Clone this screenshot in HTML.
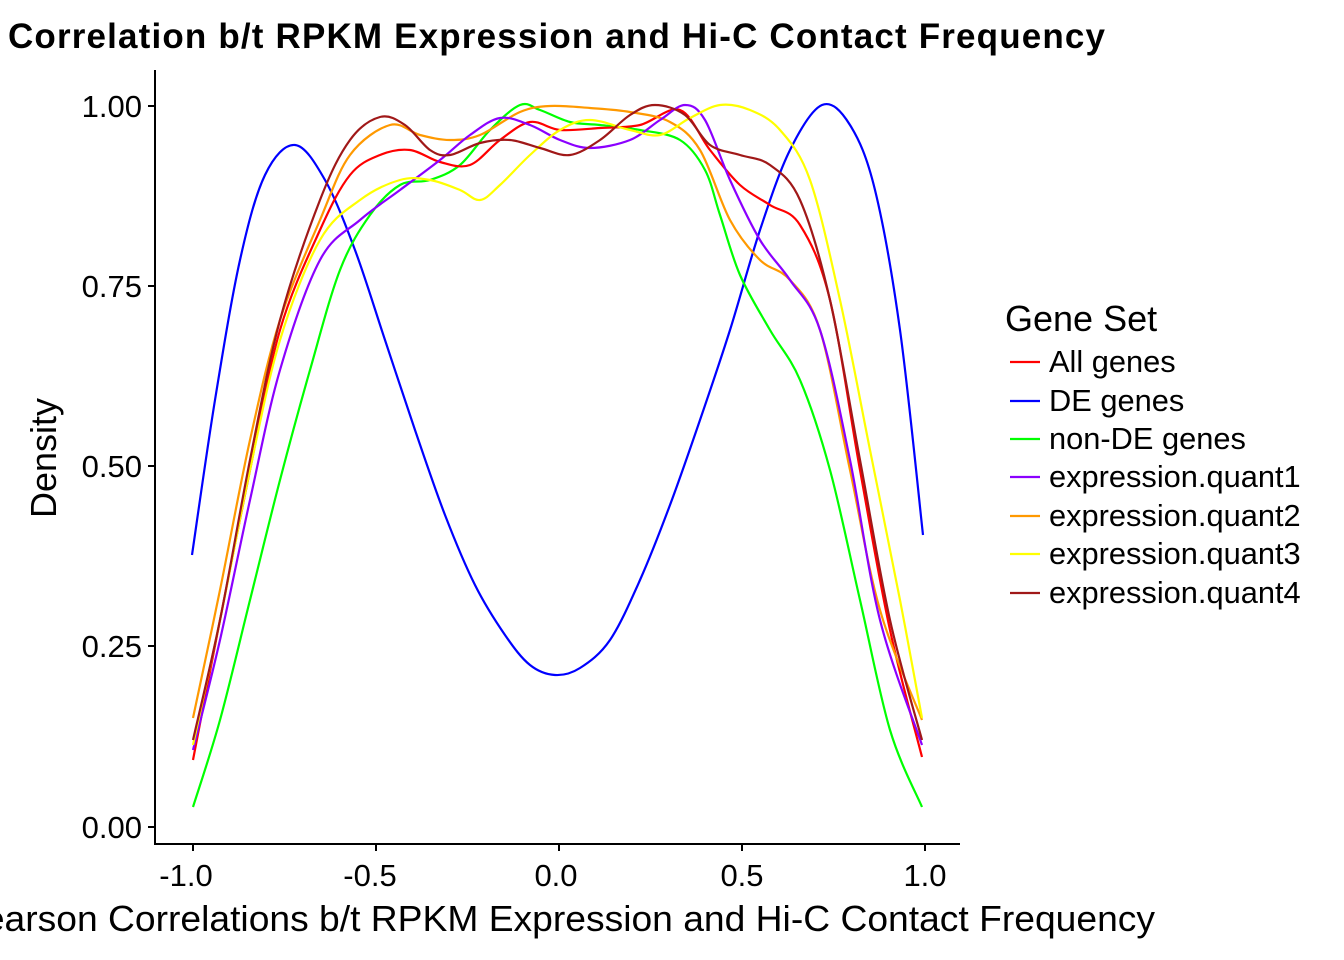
<!DOCTYPE html>
<html><head><meta charset="utf-8"><style>
html,body{margin:0;padding:0;background:#fff;}
svg{display:block;font-family:"Liberation Sans",Arial,sans-serif;}
</style></head><body>
<svg id="s" width="1344" height="960" viewBox="0 0 1344 960" xmlns="http://www.w3.org/2000/svg">
<rect width="1344" height="960" fill="#fff"/>
<text x="8" y="48" font-size="35" font-weight="bold" fill="#000" textLength="1097">Correlation b/t RPKM Expression and Hi-C Contact Frequency</text>
<g stroke="#000" stroke-width="2" fill="none">
<line x1="155" y1="70" x2="155" y2="844"/>
<line x1="154" y1="844" x2="960" y2="844"/>
<line x1="148" y1="106" x2="155" y2="106"/>
<line x1="148" y1="286" x2="155" y2="286"/>
<line x1="148" y1="466" x2="155" y2="466"/>
<line x1="148" y1="646" x2="155" y2="646"/>
<line x1="148" y1="827" x2="155" y2="827"/>
<line x1="193" y1="844" x2="193" y2="851"/>
<line x1="376" y1="844" x2="376" y2="851"/>
<line x1="559" y1="844" x2="559" y2="851"/>
<line x1="742" y1="844" x2="742" y2="851"/>
<line x1="925" y1="844" x2="925" y2="851"/>
</g>
<g font-size="31" fill="#000" text-anchor="end">
<text x="142" y="117">1.00</text>
<text x="142" y="297">0.75</text>
<text x="142" y="477">0.50</text>
<text x="142" y="657">0.25</text>
<text x="142" y="838">0.00</text>
</g>
<g font-size="31" fill="#000" text-anchor="middle">
<text x="186" y="886">-1.0</text>
<text x="370" y="886">-0.5</text>
<text x="556" y="886">0.0</text>
<text x="742" y="886">0.5</text>
<text x="925" y="886">1.0</text>
<text x="557" y="931" font-size="36" textLength="1196" lengthAdjust="spacingAndGlyphs">Pearson Correlations b/t RPKM Expression and Hi-C Contact Frequency</text>
</g>
<text transform="translate(56,458) rotate(-90)" font-size="36" text-anchor="middle">Density</text>
<g id="curves" fill="none" stroke-width="2.2" stroke-linejoin="round"></g>
<text x="1005" y="331" font-size="36">Gene Set</text>
<g stroke-width="2.2">
<line x1="1010" y1="362" x2="1040" y2="362" stroke="#FF0000"/>
<line x1="1010" y1="401" x2="1040" y2="401" stroke="#0000FF"/>
<line x1="1010" y1="439" x2="1040" y2="439" stroke="#00FF00"/>
<line x1="1010" y1="477" x2="1040" y2="477" stroke="#8B00FF"/>
<line x1="1010" y1="516" x2="1040" y2="516" stroke="#FF9900"/>
<line x1="1010" y1="554" x2="1040" y2="554" stroke="#FFFF00"/>
<line x1="1010" y1="593" x2="1040" y2="593" stroke="#A01818"/>
</g>
<g font-size="30.8" fill="#000">
<text x="1049" y="372">All genes</text>
<text x="1049" y="411">DE genes</text>
<text x="1049" y="449">non-DE genes</text>
<text x="1049" y="487">expression.quant1</text>
<text x="1049" y="526">expression.quant2</text>
<text x="1049" y="564">expression.quant3</text>
<text x="1049" y="603">expression.quant4</text>
</g>
</svg>
<script>
var S={
"#0000FF":"192,555 215,400 240,260 265,175 295,145 325,180 355,250 385,340 415,430 445,515 475,585 505,635 530,665 555,675 580,668 610,640 640,580 670,505 700,420 730,330 760,230 790,150 822,105 850,125 875,190 900,330 923,535",
"#00FF00":"193,807 220,720 250,600 280,480 310,370 340,270 370,215 400,185 430,180 460,165 490,130 520,105 540,110 570,122 600,125 640,130 680,140 705,170 720,215 740,275 770,330 800,380 830,470 860,600 890,730 922,807",
"#FF0000":"193,760 220,620 250,470 280,330 320,230 350,175 380,155 410,150 440,162 470,165 500,140 530,122 560,130 600,128 640,125 680,110 710,150 740,185 770,205 800,225 830,300 860,470 890,630 922,757",
"#FF9900":"193,718 220,590 250,440 280,320 320,220 350,155 390,125 420,135 450,140 480,135 520,112 550,106 590,108 630,112 670,122 700,150 730,220 760,260 790,280 820,330 850,470 880,610 922,720",
"#8B00FF":"193,750 220,640 250,500 280,370 320,260 360,220 400,190 440,160 470,135 500,118 530,125 560,140 590,148 630,140 660,120 685,105 705,120 730,180 760,240 790,280 820,330 850,460 880,620 922,745",
"#FFFF00":"193,745 220,620 250,470 280,340 320,240 360,200 400,180 430,180 460,190 480,200 500,185 530,155 560,130 590,120 630,130 660,135 690,118 720,105 750,110 780,130 810,180 840,300 870,450 900,600 922,718",
"#A01818":"193,740 220,620 250,460 280,320 320,200 350,140 380,117 405,125 430,150 450,155 480,143 510,140 540,148 570,155 600,140 630,115 655,105 685,115 710,145 740,155 770,165 800,200 830,300 860,460 890,620 922,740"};
var g=document.getElementById("curves"),ns="http://www.w3.org/2000/svg";
for(var c in S){var p=S[c].split(" ").map(function(s){return s.split(",").map(Number)});
var d="M"+p[0][0]+","+p[0][1];
for(var i=0;i<p.length-1;i++){var p0=p[i>0?i-1:i],p1=p[i],p2=p[i+1],p3=p[i+2<p.length?i+2:i+1];
d+=" C"+(p1[0]+(p2[0]-p0[0])/6)+","+(p1[1]+(p2[1]-p0[1])/6)+" "+(p2[0]-(p3[0]-p1[0])/6)+","+(p2[1]-(p3[1]-p1[1])/6)+" "+p2[0]+","+p2[1];}
var e=document.createElementNS(ns,"path");e.setAttribute("d",d);e.setAttribute("stroke",c);g.appendChild(e);}
</script>
</body></html>
